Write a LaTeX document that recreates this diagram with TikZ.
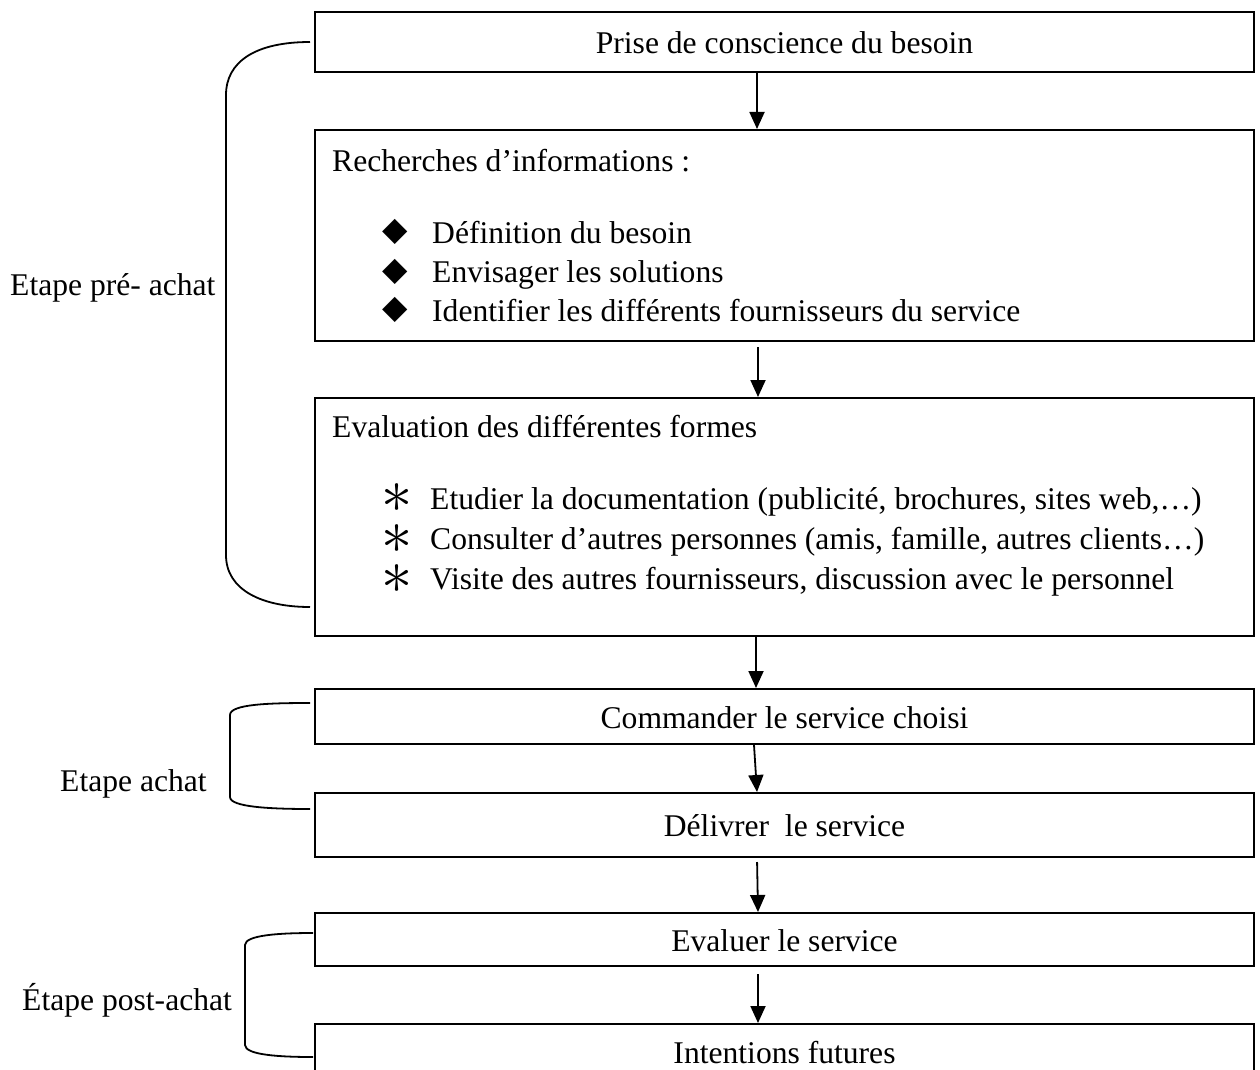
\documentclass[tikz,border=0pt]{standalone}
\usepackage{fontspec}
\setmainfont{Liberation Serif}
\newfontfamily\symfont{DejaVu Sans}
\usetikzlibrary{arrows.meta}
\begin{document}
\begin{tikzpicture}[x=1pt,y=-1pt,
  txt/.style={inner sep=0pt, font=\fontsize{31.6}{38}\selectfont},
  box/.style={draw, line width=2pt, minimum width=939pt, inner sep=0pt, anchor=north west,
    font=\fontsize{31.6}{38}\selectfont, text height=30pt, text depth=7pt},
  arr/.style={line width=1.8pt, -{Triangle[length=17pt,width=15pt]}},
  brace/.style={line width=1.8pt},
  dia/.style={inner sep=0pt, font=\symfont\fontsize{33}{40}\selectfont},
  ast/.style={inner sep=0pt, font=\fontsize{42}{48}\selectfont}]
\useasboundingbox (0,0) rectangle (1260,1070);
% boxes
\node[box, minimum height=60pt] (b1) at (314,11) {Prise de conscience du besoin};
\node[box, minimum height=211pt] (b2) at (314,129) {};
\node[box, minimum height=238pt] (b3) at (314,397) {};
\node[box, minimum height=55pt] (b4) at (314,688) {Commander le service choisi};
\node[box, minimum height=64pt] (b5) at (314,792) {Délivrer~ le service};
\node[box, minimum height=53pt] (b6) at (314,912) {Evaluer le service};
\node[box, minimum height=56pt] (b7) at (314,1023) {Intentions futures};
% box 2 content
\node[txt, anchor=base west] (r0) at (332,171) {Recherches d’informations :};
\node[dia, anchor=center] (d1) at (395,232) {◆};
\node[dia, anchor=center] (d2) at (395,272) {◆};
\node[dia, anchor=center] (d3) at (395,310) {◆};
\node[txt, anchor=base west] (r1) at (432,243) {Définition du besoin};
\node[txt, anchor=base west] (r2) at (432,282) {Envisager les solutions};
\node[txt, anchor=base west] (r3) at (432,321) {Identifier les différents fournisseurs du service};
% box 3 content
\node[txt, anchor=base west] (e0) at (332,437) {Evaluation des différentes formes};
\node[ast, anchor=base] (a1) at (397,512) {\smash{\scalebox{2.5}{$\ast$}}};
\node[ast, anchor=base] (a2) at (397,553) {\smash{\scalebox{2.5}{$\ast$}}};
\node[ast, anchor=base] (a3) at (397,593) {\smash{\scalebox{2.5}{$\ast$}}};
\node[txt, anchor=base west] (e1) at (430,509) {Etudier la documentation (publicité, brochures, sites web,…)};
\node[txt, anchor=base west] (e2) at (430,549) {Consulter d’autres personnes (amis, famille, autres clients…)};
\node[txt, anchor=base west] (e3) at (430,589) {Visite des autres fournisseurs, discussion avec le personnel};
% left labels
\node[txt, anchor=base west] (l1) at (10,295) {Etape pré- achat};
\node[txt, anchor=base west] (l2) at (60,791) {Etape achat};
\node[txt, anchor=base west] (l3) at (22,1010) {Étape post-achat};
% arrow x positions
\coordinate (ax1) at (757,0);
\coordinate (ax2) at (758,0);
\coordinate (ax3) at (756,0);
\coordinate (ax4) at (754,0);
\coordinate (ax4b) at (757,0);
\coordinate (ax5) at (757,0);
\coordinate (ax5b) at (758,0);
\coordinate (ax6) at (758,0);
\draw[arr] (b1.south -| ax1) -- (b2.north -| ax1);
\draw[arr, shorten <=5pt] (b2.south -| ax2) -- (b3.north -| ax2);
\draw[arr] (b3.south -| ax3) -- (b4.north -| ax3);
\draw[arr] (b4.south -| ax4) -- (b5.north -| ax4b);
\draw[arr, shorten <=4pt] (b5.south -| ax5) -- (b6.north -| ax5b);
\draw[arr, shorten <=7pt] (b6.south -| ax6) -- (b7.north -| ax6);
% brackets
\coordinate (k1a) at (310,42);
\coordinate (k1b) at (310,607);
\coordinate (k2a) at (310,703);
\coordinate (k2b) at (310,809);
\coordinate (k3a) at (313,933);
\coordinate (k3b) at (313,1057);
\draw[brace] (k1a) .. controls (255,42) and (226,62) .. (226,95) -- (226,555)
  .. controls (226,590) and (262,607) .. (k1b);
\draw[brace] (k2a) .. controls (270,703) and (230,704) .. (230,715) -- (230,797)
  .. controls (230,807) and (270,809) .. (k2b);
\draw[brace] (k3a) .. controls (280,933) and (245,935) .. (245,945) -- (245,1045)
  .. controls (245,1055) and (280,1057) .. (k3b);
\end{tikzpicture}
\end{document}
